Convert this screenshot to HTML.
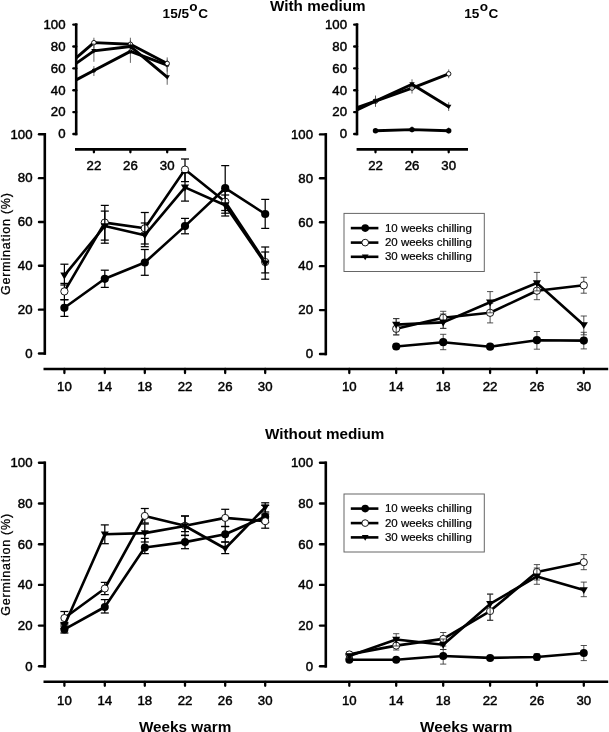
<!DOCTYPE html>
<html lang="en">
<head>
<meta charset="utf-8">
<title>Germination figure</title>
<style>
html,body{margin:0;padding:0;background:#fff;}
body{width:609px;height:732px;overflow:hidden;}
svg{display:block;font-family:'Liberation Sans', Arial, sans-serif;fill:#000;}
</style>
</head>
<body>
<svg width="609" height="732" viewBox="0 0 609 732">
<rect x="0" y="0" width="609" height="732" fill="#fff"/>
<text transform="translate(317.80,11.20) scale(1.017,1)" font-size="15" text-anchor="middle" font-weight="bold">With medium</text>
<text transform="translate(324.70,438.90) scale(1.018,1)" font-size="15" text-anchor="middle" font-weight="bold">Without medium</text>
<text transform="translate(162.6,17.65)" font-size="13.6" font-weight="bold" text-anchor="start">15/5<tspan dy="-6.75" dx="0.3">o</tspan><tspan dy="6.75" dx="0.5">C</tspan></text>
<text transform="translate(464.3,17.65)" font-size="13.6" font-weight="bold" text-anchor="start">15<tspan dy="-6.75" dx="0.3">o</tspan><tspan dy="6.75" dx="0.5">C</tspan></text>
<text transform="translate(10.20,243.60) rotate(-90)" font-size="12.5" text-anchor="middle" stroke="#000" stroke-width="0.28" letter-spacing="0.77">Germination (%)</text>
<text transform="translate(10.20,564.40) rotate(-90)" font-size="12.5" text-anchor="middle" stroke="#000" stroke-width="0.28" letter-spacing="0.77">Germination (%)</text>
<text transform="translate(185.10,731.70)" font-size="15.3" text-anchor="middle" font-weight="bold">Weeks warm</text>
<text transform="translate(466.20,731.70)" font-size="15.3" text-anchor="middle" font-weight="bold">Weeks warm</text>
<line x1="44.80" y1="133.00" x2="44.80" y2="354.80" stroke="#000" stroke-width="2.6" stroke-linecap="butt"/>
<line x1="39.00" y1="353.50" x2="44.80" y2="353.50" stroke="#000" stroke-width="2.4" stroke-linecap="round"/>
<text transform="translate(32.50,357.80) scale(1.1,1)" font-size="12" text-anchor="end" stroke="#000" stroke-width="0.42">0</text>
<line x1="39.00" y1="309.66" x2="44.80" y2="309.66" stroke="#000" stroke-width="2.4" stroke-linecap="round"/>
<text transform="translate(32.50,313.96) scale(1.1,1)" font-size="12" text-anchor="end" stroke="#000" stroke-width="0.42">20</text>
<line x1="39.00" y1="265.82" x2="44.80" y2="265.82" stroke="#000" stroke-width="2.4" stroke-linecap="round"/>
<text transform="translate(32.50,270.12) scale(1.1,1)" font-size="12" text-anchor="end" stroke="#000" stroke-width="0.42">40</text>
<line x1="39.00" y1="221.98" x2="44.80" y2="221.98" stroke="#000" stroke-width="2.4" stroke-linecap="round"/>
<text transform="translate(32.50,226.28) scale(1.1,1)" font-size="12" text-anchor="end" stroke="#000" stroke-width="0.42">60</text>
<line x1="39.00" y1="178.14" x2="44.80" y2="178.14" stroke="#000" stroke-width="2.4" stroke-linecap="round"/>
<text transform="translate(32.50,182.44) scale(1.1,1)" font-size="12" text-anchor="end" stroke="#000" stroke-width="0.42">80</text>
<line x1="39.00" y1="134.30" x2="44.80" y2="134.30" stroke="#000" stroke-width="2.4" stroke-linecap="round"/>
<text transform="translate(32.50,138.60) scale(1.1,1)" font-size="12" text-anchor="end" stroke="#000" stroke-width="0.42">100</text>
<line x1="43.50" y1="369.00" x2="608.20" y2="369.00" stroke="#000" stroke-width="2.6" stroke-linecap="butt"/>
<line x1="64.40" y1="369.00" x2="64.40" y2="373.00" stroke="#000" stroke-width="2.3" stroke-linecap="round"/>
<text transform="translate(64.40,391.30) scale(1.1,1)" font-size="12" text-anchor="middle" stroke="#000" stroke-width="0.42">10</text>
<line x1="104.80" y1="369.00" x2="104.80" y2="373.00" stroke="#000" stroke-width="2.3" stroke-linecap="round"/>
<text transform="translate(104.80,391.30) scale(1.1,1)" font-size="12" text-anchor="middle" stroke="#000" stroke-width="0.42">14</text>
<line x1="144.80" y1="369.00" x2="144.80" y2="373.00" stroke="#000" stroke-width="2.3" stroke-linecap="round"/>
<text transform="translate(144.80,391.30) scale(1.1,1)" font-size="12" text-anchor="middle" stroke="#000" stroke-width="0.42">18</text>
<line x1="185.00" y1="369.00" x2="185.00" y2="373.00" stroke="#000" stroke-width="2.3" stroke-linecap="round"/>
<text transform="translate(185.00,391.30) scale(1.1,1)" font-size="12" text-anchor="middle" stroke="#000" stroke-width="0.42">22</text>
<line x1="225.20" y1="369.00" x2="225.20" y2="373.00" stroke="#000" stroke-width="2.3" stroke-linecap="round"/>
<text transform="translate(225.20,391.30) scale(1.1,1)" font-size="12" text-anchor="middle" stroke="#000" stroke-width="0.42">26</text>
<line x1="265.20" y1="369.00" x2="265.20" y2="373.00" stroke="#000" stroke-width="2.3" stroke-linecap="round"/>
<text transform="translate(265.20,391.30) scale(1.1,1)" font-size="12" text-anchor="middle" stroke="#000" stroke-width="0.42">30</text>
<line x1="325.80" y1="133.10" x2="325.80" y2="355.30" stroke="#000" stroke-width="2.6" stroke-linecap="butt"/>
<line x1="320.00" y1="354.00" x2="325.80" y2="354.00" stroke="#000" stroke-width="2.4" stroke-linecap="round"/>
<text transform="translate(313.00,358.30) scale(1.1,1)" font-size="12" text-anchor="end" stroke="#000" stroke-width="0.42">0</text>
<line x1="320.00" y1="310.08" x2="325.80" y2="310.08" stroke="#000" stroke-width="2.4" stroke-linecap="round"/>
<text transform="translate(313.00,314.38) scale(1.1,1)" font-size="12" text-anchor="end" stroke="#000" stroke-width="0.42">20</text>
<line x1="320.00" y1="266.16" x2="325.80" y2="266.16" stroke="#000" stroke-width="2.4" stroke-linecap="round"/>
<text transform="translate(313.00,270.46) scale(1.1,1)" font-size="12" text-anchor="end" stroke="#000" stroke-width="0.42">40</text>
<line x1="320.00" y1="222.24" x2="325.80" y2="222.24" stroke="#000" stroke-width="2.4" stroke-linecap="round"/>
<text transform="translate(313.00,226.54) scale(1.1,1)" font-size="12" text-anchor="end" stroke="#000" stroke-width="0.42">60</text>
<line x1="320.00" y1="178.32" x2="325.80" y2="178.32" stroke="#000" stroke-width="2.4" stroke-linecap="round"/>
<text transform="translate(313.00,182.62) scale(1.1,1)" font-size="12" text-anchor="end" stroke="#000" stroke-width="0.42">80</text>
<line x1="320.00" y1="134.40" x2="325.80" y2="134.40" stroke="#000" stroke-width="2.4" stroke-linecap="round"/>
<text transform="translate(313.00,138.70) scale(1.1,1)" font-size="12" text-anchor="end" stroke="#000" stroke-width="0.42">100</text>
<line x1="349.30" y1="369.00" x2="349.30" y2="373.00" stroke="#000" stroke-width="2.3" stroke-linecap="round"/>
<text transform="translate(349.30,391.30) scale(1.1,1)" font-size="12" text-anchor="middle" stroke="#000" stroke-width="0.42">10</text>
<line x1="396.20" y1="369.00" x2="396.20" y2="373.00" stroke="#000" stroke-width="2.3" stroke-linecap="round"/>
<text transform="translate(396.20,391.30) scale(1.1,1)" font-size="12" text-anchor="middle" stroke="#000" stroke-width="0.42">14</text>
<line x1="443.20" y1="369.00" x2="443.20" y2="373.00" stroke="#000" stroke-width="2.3" stroke-linecap="round"/>
<text transform="translate(443.20,391.30) scale(1.1,1)" font-size="12" text-anchor="middle" stroke="#000" stroke-width="0.42">18</text>
<line x1="490.10" y1="369.00" x2="490.10" y2="373.00" stroke="#000" stroke-width="2.3" stroke-linecap="round"/>
<text transform="translate(490.10,391.30) scale(1.1,1)" font-size="12" text-anchor="middle" stroke="#000" stroke-width="0.42">22</text>
<line x1="536.90" y1="369.00" x2="536.90" y2="373.00" stroke="#000" stroke-width="2.3" stroke-linecap="round"/>
<text transform="translate(536.90,391.30) scale(1.1,1)" font-size="12" text-anchor="middle" stroke="#000" stroke-width="0.42">26</text>
<line x1="583.80" y1="369.00" x2="583.80" y2="373.00" stroke="#000" stroke-width="2.3" stroke-linecap="round"/>
<text transform="translate(583.80,391.30) scale(1.1,1)" font-size="12" text-anchor="middle" stroke="#000" stroke-width="0.42">30</text>
<line x1="44.80" y1="461.50" x2="44.80" y2="667.60" stroke="#000" stroke-width="2.6" stroke-linecap="butt"/>
<line x1="39.00" y1="666.30" x2="44.80" y2="666.30" stroke="#000" stroke-width="2.4" stroke-linecap="round"/>
<text transform="translate(32.50,670.60) scale(1.1,1)" font-size="12" text-anchor="end" stroke="#000" stroke-width="0.42">0</text>
<line x1="39.00" y1="625.60" x2="44.80" y2="625.60" stroke="#000" stroke-width="2.4" stroke-linecap="round"/>
<text transform="translate(32.50,629.90) scale(1.1,1)" font-size="12" text-anchor="end" stroke="#000" stroke-width="0.42">20</text>
<line x1="39.00" y1="584.90" x2="44.80" y2="584.90" stroke="#000" stroke-width="2.4" stroke-linecap="round"/>
<text transform="translate(32.50,589.20) scale(1.1,1)" font-size="12" text-anchor="end" stroke="#000" stroke-width="0.42">40</text>
<line x1="39.00" y1="544.20" x2="44.80" y2="544.20" stroke="#000" stroke-width="2.4" stroke-linecap="round"/>
<text transform="translate(32.50,548.50) scale(1.1,1)" font-size="12" text-anchor="end" stroke="#000" stroke-width="0.42">60</text>
<line x1="39.00" y1="503.50" x2="44.80" y2="503.50" stroke="#000" stroke-width="2.4" stroke-linecap="round"/>
<text transform="translate(32.50,507.80) scale(1.1,1)" font-size="12" text-anchor="end" stroke="#000" stroke-width="0.42">80</text>
<line x1="39.00" y1="462.80" x2="44.80" y2="462.80" stroke="#000" stroke-width="2.4" stroke-linecap="round"/>
<text transform="translate(32.50,467.10) scale(1.1,1)" font-size="12" text-anchor="end" stroke="#000" stroke-width="0.42">100</text>
<line x1="43.50" y1="681.80" x2="608.20" y2="681.80" stroke="#000" stroke-width="2.6" stroke-linecap="butt"/>
<line x1="64.40" y1="681.80" x2="64.40" y2="685.80" stroke="#000" stroke-width="2.3" stroke-linecap="round"/>
<text transform="translate(64.40,704.60) scale(1.1,1)" font-size="12" text-anchor="middle" stroke="#000" stroke-width="0.42">10</text>
<line x1="104.80" y1="681.80" x2="104.80" y2="685.80" stroke="#000" stroke-width="2.3" stroke-linecap="round"/>
<text transform="translate(104.80,704.60) scale(1.1,1)" font-size="12" text-anchor="middle" stroke="#000" stroke-width="0.42">14</text>
<line x1="144.80" y1="681.80" x2="144.80" y2="685.80" stroke="#000" stroke-width="2.3" stroke-linecap="round"/>
<text transform="translate(144.80,704.60) scale(1.1,1)" font-size="12" text-anchor="middle" stroke="#000" stroke-width="0.42">18</text>
<line x1="185.00" y1="681.80" x2="185.00" y2="685.80" stroke="#000" stroke-width="2.3" stroke-linecap="round"/>
<text transform="translate(185.00,704.60) scale(1.1,1)" font-size="12" text-anchor="middle" stroke="#000" stroke-width="0.42">22</text>
<line x1="225.20" y1="681.80" x2="225.20" y2="685.80" stroke="#000" stroke-width="2.3" stroke-linecap="round"/>
<text transform="translate(225.20,704.60) scale(1.1,1)" font-size="12" text-anchor="middle" stroke="#000" stroke-width="0.42">26</text>
<line x1="265.20" y1="681.80" x2="265.20" y2="685.80" stroke="#000" stroke-width="2.3" stroke-linecap="round"/>
<text transform="translate(265.20,704.60) scale(1.1,1)" font-size="12" text-anchor="middle" stroke="#000" stroke-width="0.42">30</text>
<line x1="325.80" y1="461.50" x2="325.80" y2="667.60" stroke="#000" stroke-width="2.6" stroke-linecap="butt"/>
<line x1="320.00" y1="666.30" x2="325.80" y2="666.30" stroke="#000" stroke-width="2.4" stroke-linecap="round"/>
<text transform="translate(313.00,670.60) scale(1.1,1)" font-size="12" text-anchor="end" stroke="#000" stroke-width="0.42">0</text>
<line x1="320.00" y1="625.60" x2="325.80" y2="625.60" stroke="#000" stroke-width="2.4" stroke-linecap="round"/>
<text transform="translate(313.00,629.90) scale(1.1,1)" font-size="12" text-anchor="end" stroke="#000" stroke-width="0.42">20</text>
<line x1="320.00" y1="584.90" x2="325.80" y2="584.90" stroke="#000" stroke-width="2.4" stroke-linecap="round"/>
<text transform="translate(313.00,589.20) scale(1.1,1)" font-size="12" text-anchor="end" stroke="#000" stroke-width="0.42">40</text>
<line x1="320.00" y1="544.20" x2="325.80" y2="544.20" stroke="#000" stroke-width="2.4" stroke-linecap="round"/>
<text transform="translate(313.00,548.50) scale(1.1,1)" font-size="12" text-anchor="end" stroke="#000" stroke-width="0.42">60</text>
<line x1="320.00" y1="503.50" x2="325.80" y2="503.50" stroke="#000" stroke-width="2.4" stroke-linecap="round"/>
<text transform="translate(313.00,507.80) scale(1.1,1)" font-size="12" text-anchor="end" stroke="#000" stroke-width="0.42">80</text>
<line x1="320.00" y1="462.80" x2="325.80" y2="462.80" stroke="#000" stroke-width="2.4" stroke-linecap="round"/>
<text transform="translate(313.00,467.10) scale(1.1,1)" font-size="12" text-anchor="end" stroke="#000" stroke-width="0.42">100</text>
<line x1="349.30" y1="681.80" x2="349.30" y2="685.80" stroke="#000" stroke-width="2.3" stroke-linecap="round"/>
<text transform="translate(349.30,704.60) scale(1.1,1)" font-size="12" text-anchor="middle" stroke="#000" stroke-width="0.42">10</text>
<line x1="396.20" y1="681.80" x2="396.20" y2="685.80" stroke="#000" stroke-width="2.3" stroke-linecap="round"/>
<text transform="translate(396.20,704.60) scale(1.1,1)" font-size="12" text-anchor="middle" stroke="#000" stroke-width="0.42">14</text>
<line x1="443.20" y1="681.80" x2="443.20" y2="685.80" stroke="#000" stroke-width="2.3" stroke-linecap="round"/>
<text transform="translate(443.20,704.60) scale(1.1,1)" font-size="12" text-anchor="middle" stroke="#000" stroke-width="0.42">18</text>
<line x1="490.10" y1="681.80" x2="490.10" y2="685.80" stroke="#000" stroke-width="2.3" stroke-linecap="round"/>
<text transform="translate(490.10,704.60) scale(1.1,1)" font-size="12" text-anchor="middle" stroke="#000" stroke-width="0.42">22</text>
<line x1="536.90" y1="681.80" x2="536.90" y2="685.80" stroke="#000" stroke-width="2.3" stroke-linecap="round"/>
<text transform="translate(536.90,704.60) scale(1.1,1)" font-size="12" text-anchor="middle" stroke="#000" stroke-width="0.42">26</text>
<line x1="583.80" y1="681.80" x2="583.80" y2="685.80" stroke="#000" stroke-width="2.3" stroke-linecap="round"/>
<text transform="translate(583.80,704.60) scale(1.1,1)" font-size="12" text-anchor="middle" stroke="#000" stroke-width="0.42">30</text>
<line x1="76.20" y1="23.30" x2="76.20" y2="135.30" stroke="#000" stroke-width="2.6" stroke-linecap="butt"/>
<line x1="73.40" y1="134.00" x2="76.20" y2="134.00" stroke="#000" stroke-width="2.4" stroke-linecap="round"/>
<text transform="translate(65.50,138.30) scale(1.1,1)" font-size="12" text-anchor="end" stroke="#000" stroke-width="0.42">0</text>
<line x1="73.40" y1="112.12" x2="76.20" y2="112.12" stroke="#000" stroke-width="2.4" stroke-linecap="round"/>
<text transform="translate(65.50,116.42) scale(1.1,1)" font-size="12" text-anchor="end" stroke="#000" stroke-width="0.42">20</text>
<line x1="73.40" y1="90.24" x2="76.20" y2="90.24" stroke="#000" stroke-width="2.4" stroke-linecap="round"/>
<text transform="translate(65.50,94.54) scale(1.1,1)" font-size="12" text-anchor="end" stroke="#000" stroke-width="0.42">40</text>
<line x1="73.40" y1="68.36" x2="76.20" y2="68.36" stroke="#000" stroke-width="2.4" stroke-linecap="round"/>
<text transform="translate(65.50,72.66) scale(1.1,1)" font-size="12" text-anchor="end" stroke="#000" stroke-width="0.42">60</text>
<line x1="73.40" y1="46.48" x2="76.20" y2="46.48" stroke="#000" stroke-width="2.4" stroke-linecap="round"/>
<text transform="translate(65.50,50.78) scale(1.1,1)" font-size="12" text-anchor="end" stroke="#000" stroke-width="0.42">80</text>
<line x1="73.40" y1="24.60" x2="76.20" y2="24.60" stroke="#000" stroke-width="2.4" stroke-linecap="round"/>
<text transform="translate(65.50,28.90) scale(1.1,1)" font-size="12" text-anchor="end" stroke="#000" stroke-width="0.42">100</text>
<line x1="75.00" y1="149.40" x2="186.20" y2="149.40" stroke="#000" stroke-width="2.6" stroke-linecap="butt"/>
<line x1="93.90" y1="149.40" x2="93.90" y2="152.30" stroke="#000" stroke-width="2.3" stroke-linecap="round"/>
<text transform="translate(93.90,170.20) scale(1.1,1)" font-size="12" text-anchor="middle" stroke="#000" stroke-width="0.42">22</text>
<line x1="130.40" y1="149.40" x2="130.40" y2="152.30" stroke="#000" stroke-width="2.3" stroke-linecap="round"/>
<text transform="translate(130.40,170.20) scale(1.1,1)" font-size="12" text-anchor="middle" stroke="#000" stroke-width="0.42">26</text>
<line x1="167.20" y1="149.40" x2="167.20" y2="152.30" stroke="#000" stroke-width="2.3" stroke-linecap="round"/>
<text transform="translate(167.20,170.20) scale(1.1,1)" font-size="12" text-anchor="middle" stroke="#000" stroke-width="0.42">30</text>
<line x1="357.00" y1="23.30" x2="357.00" y2="135.30" stroke="#000" stroke-width="2.6" stroke-linecap="butt"/>
<line x1="354.20" y1="134.00" x2="357.00" y2="134.00" stroke="#000" stroke-width="2.4" stroke-linecap="round"/>
<text transform="translate(347.00,138.30) scale(1.1,1)" font-size="12" text-anchor="end" stroke="#000" stroke-width="0.42">0</text>
<line x1="354.20" y1="112.12" x2="357.00" y2="112.12" stroke="#000" stroke-width="2.4" stroke-linecap="round"/>
<text transform="translate(347.00,116.42) scale(1.1,1)" font-size="12" text-anchor="end" stroke="#000" stroke-width="0.42">20</text>
<line x1="354.20" y1="90.24" x2="357.00" y2="90.24" stroke="#000" stroke-width="2.4" stroke-linecap="round"/>
<text transform="translate(347.00,94.54) scale(1.1,1)" font-size="12" text-anchor="end" stroke="#000" stroke-width="0.42">40</text>
<line x1="354.20" y1="68.36" x2="357.00" y2="68.36" stroke="#000" stroke-width="2.4" stroke-linecap="round"/>
<text transform="translate(347.00,72.66) scale(1.1,1)" font-size="12" text-anchor="end" stroke="#000" stroke-width="0.42">60</text>
<line x1="354.20" y1="46.48" x2="357.00" y2="46.48" stroke="#000" stroke-width="2.4" stroke-linecap="round"/>
<text transform="translate(347.00,50.78) scale(1.1,1)" font-size="12" text-anchor="end" stroke="#000" stroke-width="0.42">80</text>
<line x1="354.20" y1="24.60" x2="357.00" y2="24.60" stroke="#000" stroke-width="2.4" stroke-linecap="round"/>
<text transform="translate(347.00,28.90) scale(1.1,1)" font-size="12" text-anchor="end" stroke="#000" stroke-width="0.42">100</text>
<line x1="356.60" y1="149.40" x2="468.00" y2="149.40" stroke="#000" stroke-width="2.6" stroke-linecap="butt"/>
<line x1="375.50" y1="149.40" x2="375.50" y2="152.30" stroke="#000" stroke-width="2.3" stroke-linecap="round"/>
<text transform="translate(375.50,170.20) scale(1.1,1)" font-size="12" text-anchor="middle" stroke="#000" stroke-width="0.42">22</text>
<line x1="412.10" y1="149.40" x2="412.10" y2="152.30" stroke="#000" stroke-width="2.3" stroke-linecap="round"/>
<text transform="translate(412.10,170.20) scale(1.1,1)" font-size="12" text-anchor="middle" stroke="#000" stroke-width="0.42">26</text>
<line x1="448.70" y1="149.40" x2="448.70" y2="152.30" stroke="#000" stroke-width="2.3" stroke-linecap="round"/>
<text transform="translate(448.70,170.20) scale(1.1,1)" font-size="12" text-anchor="middle" stroke="#000" stroke-width="0.42">30</text>
<line x1="64.40" y1="299.70" x2="64.40" y2="316.40" stroke="#000" stroke-width="1.25" stroke-linecap="butt"/>
<line x1="60.40" y1="299.70" x2="68.40" y2="299.70" stroke="#000" stroke-width="1.25" stroke-linecap="butt"/>
<line x1="60.40" y1="316.40" x2="68.40" y2="316.40" stroke="#000" stroke-width="1.25" stroke-linecap="butt"/>
<line x1="104.80" y1="270.20" x2="104.80" y2="287.40" stroke="#000" stroke-width="1.25" stroke-linecap="butt"/>
<line x1="100.80" y1="270.20" x2="108.80" y2="270.20" stroke="#000" stroke-width="1.25" stroke-linecap="butt"/>
<line x1="100.80" y1="287.40" x2="108.80" y2="287.40" stroke="#000" stroke-width="1.25" stroke-linecap="butt"/>
<line x1="144.80" y1="249.50" x2="144.80" y2="275.30" stroke="#000" stroke-width="1.25" stroke-linecap="butt"/>
<line x1="140.80" y1="249.50" x2="148.80" y2="249.50" stroke="#000" stroke-width="1.25" stroke-linecap="butt"/>
<line x1="140.80" y1="275.30" x2="148.80" y2="275.30" stroke="#000" stroke-width="1.25" stroke-linecap="butt"/>
<line x1="185.00" y1="218.40" x2="185.00" y2="233.80" stroke="#000" stroke-width="1.25" stroke-linecap="butt"/>
<line x1="181.00" y1="218.40" x2="189.00" y2="218.40" stroke="#000" stroke-width="1.25" stroke-linecap="butt"/>
<line x1="181.00" y1="233.80" x2="189.00" y2="233.80" stroke="#000" stroke-width="1.25" stroke-linecap="butt"/>
<line x1="225.20" y1="165.60" x2="225.20" y2="210.50" stroke="#000" stroke-width="1.25" stroke-linecap="butt"/>
<line x1="221.20" y1="165.60" x2="229.20" y2="165.60" stroke="#000" stroke-width="1.25" stroke-linecap="butt"/>
<line x1="221.20" y1="210.50" x2="229.20" y2="210.50" stroke="#000" stroke-width="1.25" stroke-linecap="butt"/>
<line x1="265.20" y1="199.40" x2="265.20" y2="228.40" stroke="#000" stroke-width="1.25" stroke-linecap="butt"/>
<line x1="261.20" y1="199.40" x2="269.20" y2="199.40" stroke="#000" stroke-width="1.25" stroke-linecap="butt"/>
<line x1="261.20" y1="228.40" x2="269.20" y2="228.40" stroke="#000" stroke-width="1.25" stroke-linecap="butt"/>
<polyline points="64.40,307.80 104.80,278.80 144.80,262.50 185.00,226.10 225.20,188.20 265.20,214.00" fill="none" stroke="#000" stroke-width="2.6" stroke-linejoin="round"/>
<circle cx="64.40" cy="307.80" r="4.1" fill="#000"/>
<circle cx="104.80" cy="278.80" r="4.1" fill="#000"/>
<circle cx="144.80" cy="262.50" r="4.1" fill="#000"/>
<circle cx="185.00" cy="226.10" r="4.1" fill="#000"/>
<circle cx="225.20" cy="188.20" r="4.1" fill="#000"/>
<circle cx="265.20" cy="214.00" r="4.1" fill="#000"/>
<line x1="64.40" y1="283.40" x2="64.40" y2="299.70" stroke="#000" stroke-width="1.25" stroke-linecap="butt"/>
<line x1="60.40" y1="283.40" x2="68.40" y2="283.40" stroke="#000" stroke-width="1.25" stroke-linecap="butt"/>
<line x1="60.40" y1="299.70" x2="68.40" y2="299.70" stroke="#000" stroke-width="1.25" stroke-linecap="butt"/>
<line x1="104.80" y1="205.40" x2="104.80" y2="243.20" stroke="#000" stroke-width="1.25" stroke-linecap="butt"/>
<line x1="100.80" y1="205.40" x2="108.80" y2="205.40" stroke="#000" stroke-width="1.25" stroke-linecap="butt"/>
<line x1="100.80" y1="243.20" x2="108.80" y2="243.20" stroke="#000" stroke-width="1.25" stroke-linecap="butt"/>
<line x1="144.80" y1="212.50" x2="144.80" y2="244.00" stroke="#000" stroke-width="1.25" stroke-linecap="butt"/>
<line x1="140.80" y1="212.50" x2="148.80" y2="212.50" stroke="#000" stroke-width="1.25" stroke-linecap="butt"/>
<line x1="140.80" y1="244.00" x2="148.80" y2="244.00" stroke="#000" stroke-width="1.25" stroke-linecap="butt"/>
<line x1="185.00" y1="159.00" x2="185.00" y2="181.60" stroke="#000" stroke-width="1.25" stroke-linecap="butt"/>
<line x1="181.00" y1="159.00" x2="189.00" y2="159.00" stroke="#000" stroke-width="1.25" stroke-linecap="butt"/>
<line x1="181.00" y1="181.60" x2="189.00" y2="181.60" stroke="#000" stroke-width="1.25" stroke-linecap="butt"/>
<line x1="225.20" y1="191.00" x2="225.20" y2="213.20" stroke="#000" stroke-width="1.25" stroke-linecap="butt"/>
<line x1="221.20" y1="191.00" x2="229.20" y2="191.00" stroke="#000" stroke-width="1.25" stroke-linecap="butt"/>
<line x1="221.20" y1="213.20" x2="229.20" y2="213.20" stroke="#000" stroke-width="1.25" stroke-linecap="butt"/>
<line x1="265.20" y1="247.00" x2="265.20" y2="272.90" stroke="#000" stroke-width="1.25" stroke-linecap="butt"/>
<line x1="261.20" y1="247.00" x2="269.20" y2="247.00" stroke="#000" stroke-width="1.25" stroke-linecap="butt"/>
<line x1="261.20" y1="272.90" x2="269.20" y2="272.90" stroke="#000" stroke-width="1.25" stroke-linecap="butt"/>
<polyline points="64.40,291.40 104.80,222.60 144.80,228.30 185.00,169.60 225.20,201.70 265.20,262.00" fill="none" stroke="#000" stroke-width="2.6" stroke-linejoin="round"/>
<circle cx="64.40" cy="291.40" r="3.6499999999999995" fill="#fff" stroke="#000" stroke-width="0.9"/>
<circle cx="104.80" cy="222.60" r="3.6499999999999995" fill="#fff" stroke="#000" stroke-width="0.9"/>
<circle cx="144.80" cy="228.30" r="3.6499999999999995" fill="#fff" stroke="#000" stroke-width="0.9"/>
<circle cx="185.00" cy="169.60" r="3.6499999999999995" fill="#fff" stroke="#000" stroke-width="0.9"/>
<circle cx="225.20" cy="201.70" r="3.6499999999999995" fill="#fff" stroke="#000" stroke-width="0.9"/>
<circle cx="265.20" cy="262.00" r="3.6499999999999995" fill="#fff" stroke="#000" stroke-width="0.9"/>
<line x1="64.40" y1="264.20" x2="64.40" y2="285.00" stroke="#000" stroke-width="1.25" stroke-linecap="butt"/>
<line x1="60.40" y1="264.20" x2="68.40" y2="264.20" stroke="#000" stroke-width="1.25" stroke-linecap="butt"/>
<line x1="60.40" y1="285.00" x2="68.40" y2="285.00" stroke="#000" stroke-width="1.25" stroke-linecap="butt"/>
<line x1="104.80" y1="211.10" x2="104.80" y2="240.10" stroke="#000" stroke-width="1.25" stroke-linecap="butt"/>
<line x1="100.80" y1="211.10" x2="108.80" y2="211.10" stroke="#000" stroke-width="1.25" stroke-linecap="butt"/>
<line x1="100.80" y1="240.10" x2="108.80" y2="240.10" stroke="#000" stroke-width="1.25" stroke-linecap="butt"/>
<line x1="144.80" y1="223.00" x2="144.80" y2="246.70" stroke="#000" stroke-width="1.25" stroke-linecap="butt"/>
<line x1="140.80" y1="223.00" x2="148.80" y2="223.00" stroke="#000" stroke-width="1.25" stroke-linecap="butt"/>
<line x1="140.80" y1="246.70" x2="148.80" y2="246.70" stroke="#000" stroke-width="1.25" stroke-linecap="butt"/>
<line x1="185.00" y1="172.70" x2="185.00" y2="201.10" stroke="#000" stroke-width="1.25" stroke-linecap="butt"/>
<line x1="181.00" y1="172.70" x2="189.00" y2="172.70" stroke="#000" stroke-width="1.25" stroke-linecap="butt"/>
<line x1="181.00" y1="201.10" x2="189.00" y2="201.10" stroke="#000" stroke-width="1.25" stroke-linecap="butt"/>
<line x1="225.20" y1="195.00" x2="225.20" y2="216.00" stroke="#000" stroke-width="1.25" stroke-linecap="butt"/>
<line x1="221.20" y1="195.00" x2="229.20" y2="195.00" stroke="#000" stroke-width="1.25" stroke-linecap="butt"/>
<line x1="221.20" y1="216.00" x2="229.20" y2="216.00" stroke="#000" stroke-width="1.25" stroke-linecap="butt"/>
<line x1="265.20" y1="252.00" x2="265.20" y2="279.20" stroke="#000" stroke-width="1.25" stroke-linecap="butt"/>
<line x1="261.20" y1="252.00" x2="269.20" y2="252.00" stroke="#000" stroke-width="1.25" stroke-linecap="butt"/>
<line x1="261.20" y1="279.20" x2="269.20" y2="279.20" stroke="#000" stroke-width="1.25" stroke-linecap="butt"/>
<polyline points="64.40,275.40 104.80,226.00 144.80,235.20 185.00,187.40 225.20,205.20 265.20,263.40" fill="none" stroke="#000" stroke-width="2.6" stroke-linejoin="round"/>
<polygon points="60.30,272.53 68.50,272.53 64.40,279.50" fill="#000"/>
<polygon points="100.70,223.13 108.90,223.13 104.80,230.10" fill="#000"/>
<polygon points="140.70,232.33 148.90,232.33 144.80,239.30" fill="#000"/>
<polygon points="180.90,184.53 189.10,184.53 185.00,191.50" fill="#000"/>
<polygon points="221.10,202.33 229.30,202.33 225.20,209.30" fill="#000"/>
<polygon points="261.10,260.53 269.30,260.53 265.20,267.50" fill="#000"/>
<line x1="396.20" y1="344.00" x2="396.20" y2="349.00" stroke="#333" stroke-width="0.85" stroke-linecap="butt"/>
<line x1="393.10" y1="344.00" x2="399.30" y2="344.00" stroke="#333" stroke-width="0.85" stroke-linecap="butt"/>
<line x1="393.10" y1="349.00" x2="399.30" y2="349.00" stroke="#333" stroke-width="0.85" stroke-linecap="butt"/>
<line x1="443.20" y1="334.30" x2="443.20" y2="349.70" stroke="#333" stroke-width="0.85" stroke-linecap="butt"/>
<line x1="440.10" y1="334.30" x2="446.30" y2="334.30" stroke="#333" stroke-width="0.85" stroke-linecap="butt"/>
<line x1="440.10" y1="349.70" x2="446.30" y2="349.70" stroke="#333" stroke-width="0.85" stroke-linecap="butt"/>
<line x1="490.10" y1="344.50" x2="490.10" y2="349.00" stroke="#333" stroke-width="0.85" stroke-linecap="butt"/>
<line x1="487.00" y1="344.50" x2="493.20" y2="344.50" stroke="#333" stroke-width="0.85" stroke-linecap="butt"/>
<line x1="487.00" y1="349.00" x2="493.20" y2="349.00" stroke="#333" stroke-width="0.85" stroke-linecap="butt"/>
<line x1="536.90" y1="331.50" x2="536.90" y2="349.20" stroke="#333" stroke-width="0.85" stroke-linecap="butt"/>
<line x1="533.80" y1="331.50" x2="540.00" y2="331.50" stroke="#333" stroke-width="0.85" stroke-linecap="butt"/>
<line x1="533.80" y1="349.20" x2="540.00" y2="349.20" stroke="#333" stroke-width="0.85" stroke-linecap="butt"/>
<line x1="583.80" y1="332.30" x2="583.80" y2="348.90" stroke="#333" stroke-width="0.85" stroke-linecap="butt"/>
<line x1="580.70" y1="332.30" x2="586.90" y2="332.30" stroke="#333" stroke-width="0.85" stroke-linecap="butt"/>
<line x1="580.70" y1="348.90" x2="586.90" y2="348.90" stroke="#333" stroke-width="0.85" stroke-linecap="butt"/>
<polyline points="396.20,346.50 443.20,342.20 490.10,346.70 536.90,340.20 583.80,340.60" fill="none" stroke="#000" stroke-width="2.6" stroke-linejoin="round"/>
<circle cx="396.20" cy="346.50" r="4.1" fill="#000"/>
<circle cx="443.20" cy="342.20" r="4.1" fill="#000"/>
<circle cx="490.10" cy="346.70" r="4.1" fill="#000"/>
<circle cx="536.90" cy="340.20" r="4.1" fill="#000"/>
<circle cx="583.80" cy="340.60" r="4.1" fill="#000"/>
<line x1="396.20" y1="318.60" x2="396.20" y2="334.90" stroke="#333" stroke-width="0.85" stroke-linecap="butt"/>
<line x1="393.10" y1="318.60" x2="399.30" y2="318.60" stroke="#333" stroke-width="0.85" stroke-linecap="butt"/>
<line x1="393.10" y1="334.90" x2="399.30" y2="334.90" stroke="#333" stroke-width="0.85" stroke-linecap="butt"/>
<line x1="443.20" y1="311.30" x2="443.20" y2="328.40" stroke="#333" stroke-width="0.85" stroke-linecap="butt"/>
<line x1="440.10" y1="311.30" x2="446.30" y2="311.30" stroke="#333" stroke-width="0.85" stroke-linecap="butt"/>
<line x1="440.10" y1="328.40" x2="446.30" y2="328.40" stroke="#333" stroke-width="0.85" stroke-linecap="butt"/>
<line x1="490.10" y1="303.40" x2="490.10" y2="322.90" stroke="#333" stroke-width="0.85" stroke-linecap="butt"/>
<line x1="487.00" y1="303.40" x2="493.20" y2="303.40" stroke="#333" stroke-width="0.85" stroke-linecap="butt"/>
<line x1="487.00" y1="322.90" x2="493.20" y2="322.90" stroke="#333" stroke-width="0.85" stroke-linecap="butt"/>
<line x1="536.90" y1="282.80" x2="536.90" y2="299.70" stroke="#333" stroke-width="0.85" stroke-linecap="butt"/>
<line x1="533.80" y1="282.80" x2="540.00" y2="282.80" stroke="#333" stroke-width="0.85" stroke-linecap="butt"/>
<line x1="533.80" y1="299.70" x2="540.00" y2="299.70" stroke="#333" stroke-width="0.85" stroke-linecap="butt"/>
<line x1="583.80" y1="277.30" x2="583.80" y2="293.20" stroke="#333" stroke-width="0.85" stroke-linecap="butt"/>
<line x1="580.70" y1="277.30" x2="586.90" y2="277.30" stroke="#333" stroke-width="0.85" stroke-linecap="butt"/>
<line x1="580.70" y1="293.20" x2="586.90" y2="293.20" stroke="#333" stroke-width="0.85" stroke-linecap="butt"/>
<polyline points="396.20,328.80 443.20,317.80 490.10,312.80 536.90,290.70 583.80,285.30" fill="none" stroke="#000" stroke-width="2.6" stroke-linejoin="round"/>
<circle cx="396.20" cy="328.80" r="3.6499999999999995" fill="#fff" stroke="#000" stroke-width="0.9"/>
<circle cx="443.20" cy="317.80" r="3.6499999999999995" fill="#fff" stroke="#000" stroke-width="0.9"/>
<circle cx="490.10" cy="312.80" r="3.6499999999999995" fill="#fff" stroke="#000" stroke-width="0.9"/>
<circle cx="536.90" cy="290.70" r="3.6499999999999995" fill="#fff" stroke="#000" stroke-width="0.9"/>
<circle cx="583.80" cy="285.30" r="3.6499999999999995" fill="#fff" stroke="#000" stroke-width="0.9"/>
<line x1="396.20" y1="318.60" x2="396.20" y2="334.90" stroke="#333" stroke-width="0.85" stroke-linecap="butt"/>
<line x1="393.10" y1="318.60" x2="399.30" y2="318.60" stroke="#333" stroke-width="0.85" stroke-linecap="butt"/>
<line x1="393.10" y1="334.90" x2="399.30" y2="334.90" stroke="#333" stroke-width="0.85" stroke-linecap="butt"/>
<line x1="443.20" y1="314.00" x2="443.20" y2="328.40" stroke="#333" stroke-width="0.85" stroke-linecap="butt"/>
<line x1="440.10" y1="314.00" x2="446.30" y2="314.00" stroke="#333" stroke-width="0.85" stroke-linecap="butt"/>
<line x1="440.10" y1="328.40" x2="446.30" y2="328.40" stroke="#333" stroke-width="0.85" stroke-linecap="butt"/>
<line x1="490.10" y1="291.60" x2="490.10" y2="312.80" stroke="#333" stroke-width="0.85" stroke-linecap="butt"/>
<line x1="487.00" y1="291.60" x2="493.20" y2="291.60" stroke="#333" stroke-width="0.85" stroke-linecap="butt"/>
<line x1="487.00" y1="312.80" x2="493.20" y2="312.80" stroke="#333" stroke-width="0.85" stroke-linecap="butt"/>
<line x1="536.90" y1="272.40" x2="536.90" y2="290.90" stroke="#333" stroke-width="0.85" stroke-linecap="butt"/>
<line x1="533.80" y1="272.40" x2="540.00" y2="272.40" stroke="#333" stroke-width="0.85" stroke-linecap="butt"/>
<line x1="533.80" y1="290.90" x2="540.00" y2="290.90" stroke="#333" stroke-width="0.85" stroke-linecap="butt"/>
<line x1="583.80" y1="316.00" x2="583.80" y2="334.80" stroke="#333" stroke-width="0.85" stroke-linecap="butt"/>
<line x1="580.70" y1="316.00" x2="586.90" y2="316.00" stroke="#333" stroke-width="0.85" stroke-linecap="butt"/>
<line x1="580.70" y1="334.80" x2="586.90" y2="334.80" stroke="#333" stroke-width="0.85" stroke-linecap="butt"/>
<polyline points="396.20,324.60 443.20,322.40 490.10,302.30 536.90,283.00 583.80,325.00" fill="none" stroke="#000" stroke-width="2.6" stroke-linejoin="round"/>
<polygon points="392.10,321.73 400.30,321.73 396.20,328.70" fill="#000"/>
<polygon points="439.10,319.53 447.30,319.53 443.20,326.50" fill="#000"/>
<polygon points="486.00,299.43 494.20,299.43 490.10,306.40" fill="#000"/>
<polygon points="532.80,280.13 541.00,280.13 536.90,287.10" fill="#000"/>
<polygon points="579.70,322.13 587.90,322.13 583.80,329.10" fill="#000"/>
<line x1="64.40" y1="626.00" x2="64.40" y2="633.00" stroke="#000" stroke-width="1.25" stroke-linecap="butt"/>
<line x1="60.40" y1="626.00" x2="68.40" y2="626.00" stroke="#000" stroke-width="1.25" stroke-linecap="butt"/>
<line x1="60.40" y1="633.00" x2="68.40" y2="633.00" stroke="#000" stroke-width="1.25" stroke-linecap="butt"/>
<line x1="104.80" y1="599.60" x2="104.80" y2="613.00" stroke="#000" stroke-width="1.25" stroke-linecap="butt"/>
<line x1="100.80" y1="599.60" x2="108.80" y2="599.60" stroke="#000" stroke-width="1.25" stroke-linecap="butt"/>
<line x1="100.80" y1="613.00" x2="108.80" y2="613.00" stroke="#000" stroke-width="1.25" stroke-linecap="butt"/>
<line x1="144.80" y1="538.40" x2="144.80" y2="553.60" stroke="#000" stroke-width="1.25" stroke-linecap="butt"/>
<line x1="140.80" y1="538.40" x2="148.80" y2="538.40" stroke="#000" stroke-width="1.25" stroke-linecap="butt"/>
<line x1="140.80" y1="553.60" x2="148.80" y2="553.60" stroke="#000" stroke-width="1.25" stroke-linecap="butt"/>
<line x1="185.00" y1="535.50" x2="185.00" y2="548.70" stroke="#000" stroke-width="1.25" stroke-linecap="butt"/>
<line x1="181.00" y1="535.50" x2="189.00" y2="535.50" stroke="#000" stroke-width="1.25" stroke-linecap="butt"/>
<line x1="181.00" y1="548.70" x2="189.00" y2="548.70" stroke="#000" stroke-width="1.25" stroke-linecap="butt"/>
<line x1="225.20" y1="526.50" x2="225.20" y2="542.00" stroke="#000" stroke-width="1.25" stroke-linecap="butt"/>
<line x1="221.20" y1="526.50" x2="229.20" y2="526.50" stroke="#000" stroke-width="1.25" stroke-linecap="butt"/>
<line x1="221.20" y1="542.00" x2="229.20" y2="542.00" stroke="#000" stroke-width="1.25" stroke-linecap="butt"/>
<line x1="265.20" y1="505.40" x2="265.20" y2="522.50" stroke="#000" stroke-width="1.25" stroke-linecap="butt"/>
<line x1="261.20" y1="505.40" x2="269.20" y2="505.40" stroke="#000" stroke-width="1.25" stroke-linecap="butt"/>
<line x1="261.20" y1="522.50" x2="269.20" y2="522.50" stroke="#000" stroke-width="1.25" stroke-linecap="butt"/>
<polyline points="64.40,629.40 104.80,607.00 144.80,547.50 185.00,542.10 225.20,534.30 265.20,516.70" fill="none" stroke="#000" stroke-width="2.6" stroke-linejoin="round"/>
<circle cx="64.40" cy="629.40" r="4.0" fill="#000"/>
<circle cx="104.80" cy="607.00" r="4.0" fill="#000"/>
<circle cx="144.80" cy="547.50" r="4.0" fill="#000"/>
<circle cx="185.00" cy="542.10" r="4.0" fill="#000"/>
<circle cx="225.20" cy="534.30" r="4.0" fill="#000"/>
<circle cx="265.20" cy="516.70" r="4.0" fill="#000"/>
<line x1="64.40" y1="611.50" x2="64.40" y2="624.00" stroke="#000" stroke-width="1.25" stroke-linecap="butt"/>
<line x1="60.40" y1="611.50" x2="68.40" y2="611.50" stroke="#000" stroke-width="1.25" stroke-linecap="butt"/>
<line x1="60.40" y1="624.00" x2="68.40" y2="624.00" stroke="#000" stroke-width="1.25" stroke-linecap="butt"/>
<line x1="104.80" y1="582.40" x2="104.80" y2="594.60" stroke="#000" stroke-width="1.25" stroke-linecap="butt"/>
<line x1="100.80" y1="582.40" x2="108.80" y2="582.40" stroke="#000" stroke-width="1.25" stroke-linecap="butt"/>
<line x1="100.80" y1="594.60" x2="108.80" y2="594.60" stroke="#000" stroke-width="1.25" stroke-linecap="butt"/>
<line x1="144.80" y1="508.50" x2="144.80" y2="523.00" stroke="#000" stroke-width="1.25" stroke-linecap="butt"/>
<line x1="140.80" y1="508.50" x2="148.80" y2="508.50" stroke="#000" stroke-width="1.25" stroke-linecap="butt"/>
<line x1="140.80" y1="523.00" x2="148.80" y2="523.00" stroke="#000" stroke-width="1.25" stroke-linecap="butt"/>
<line x1="185.00" y1="516.00" x2="185.00" y2="531.60" stroke="#000" stroke-width="1.25" stroke-linecap="butt"/>
<line x1="181.00" y1="516.00" x2="189.00" y2="516.00" stroke="#000" stroke-width="1.25" stroke-linecap="butt"/>
<line x1="181.00" y1="531.60" x2="189.00" y2="531.60" stroke="#000" stroke-width="1.25" stroke-linecap="butt"/>
<line x1="225.20" y1="509.30" x2="225.20" y2="526.50" stroke="#000" stroke-width="1.25" stroke-linecap="butt"/>
<line x1="221.20" y1="509.30" x2="229.20" y2="509.30" stroke="#000" stroke-width="1.25" stroke-linecap="butt"/>
<line x1="221.20" y1="526.50" x2="229.20" y2="526.50" stroke="#000" stroke-width="1.25" stroke-linecap="butt"/>
<line x1="265.20" y1="514.00" x2="265.20" y2="528.20" stroke="#000" stroke-width="1.25" stroke-linecap="butt"/>
<line x1="261.20" y1="514.00" x2="269.20" y2="514.00" stroke="#000" stroke-width="1.25" stroke-linecap="butt"/>
<line x1="261.20" y1="528.20" x2="269.20" y2="528.20" stroke="#000" stroke-width="1.25" stroke-linecap="butt"/>
<polyline points="64.40,618.00 104.80,588.50 144.80,515.90 185.00,525.70 225.20,517.90 265.20,521.20" fill="none" stroke="#000" stroke-width="2.6" stroke-linejoin="round"/>
<circle cx="64.40" cy="618.00" r="3.55" fill="#fff" stroke="#000" stroke-width="0.9"/>
<circle cx="104.80" cy="588.50" r="3.55" fill="#fff" stroke="#000" stroke-width="0.9"/>
<circle cx="144.80" cy="515.90" r="3.55" fill="#fff" stroke="#000" stroke-width="0.9"/>
<circle cx="185.00" cy="525.70" r="3.55" fill="#fff" stroke="#000" stroke-width="0.9"/>
<circle cx="225.20" cy="517.90" r="3.55" fill="#fff" stroke="#000" stroke-width="0.9"/>
<circle cx="265.20" cy="521.20" r="3.55" fill="#fff" stroke="#000" stroke-width="0.9"/>
<line x1="64.40" y1="622.50" x2="64.40" y2="628.50" stroke="#000" stroke-width="1.25" stroke-linecap="butt"/>
<line x1="60.40" y1="622.50" x2="68.40" y2="622.50" stroke="#000" stroke-width="1.25" stroke-linecap="butt"/>
<line x1="60.40" y1="628.50" x2="68.40" y2="628.50" stroke="#000" stroke-width="1.25" stroke-linecap="butt"/>
<line x1="104.80" y1="524.90" x2="104.80" y2="543.70" stroke="#000" stroke-width="1.25" stroke-linecap="butt"/>
<line x1="100.80" y1="524.90" x2="108.80" y2="524.90" stroke="#000" stroke-width="1.25" stroke-linecap="butt"/>
<line x1="100.80" y1="543.70" x2="108.80" y2="543.70" stroke="#000" stroke-width="1.25" stroke-linecap="butt"/>
<line x1="144.80" y1="524.00" x2="144.80" y2="542.00" stroke="#000" stroke-width="1.25" stroke-linecap="butt"/>
<line x1="140.80" y1="524.00" x2="148.80" y2="524.00" stroke="#000" stroke-width="1.25" stroke-linecap="butt"/>
<line x1="140.80" y1="542.00" x2="148.80" y2="542.00" stroke="#000" stroke-width="1.25" stroke-linecap="butt"/>
<line x1="185.00" y1="516.00" x2="185.00" y2="535.30" stroke="#000" stroke-width="1.25" stroke-linecap="butt"/>
<line x1="181.00" y1="516.00" x2="189.00" y2="516.00" stroke="#000" stroke-width="1.25" stroke-linecap="butt"/>
<line x1="181.00" y1="535.30" x2="189.00" y2="535.30" stroke="#000" stroke-width="1.25" stroke-linecap="butt"/>
<line x1="225.20" y1="542.00" x2="225.20" y2="553.60" stroke="#000" stroke-width="1.25" stroke-linecap="butt"/>
<line x1="221.20" y1="542.00" x2="229.20" y2="542.00" stroke="#000" stroke-width="1.25" stroke-linecap="butt"/>
<line x1="221.20" y1="553.60" x2="229.20" y2="553.60" stroke="#000" stroke-width="1.25" stroke-linecap="butt"/>
<line x1="265.20" y1="502.80" x2="265.20" y2="512.00" stroke="#000" stroke-width="1.25" stroke-linecap="butt"/>
<line x1="261.20" y1="502.80" x2="269.20" y2="502.80" stroke="#000" stroke-width="1.25" stroke-linecap="butt"/>
<line x1="261.20" y1="512.00" x2="269.20" y2="512.00" stroke="#000" stroke-width="1.25" stroke-linecap="butt"/>
<polyline points="64.40,625.50 104.80,534.30 144.80,533.10 185.00,526.00 225.20,548.50 265.20,507.30" fill="none" stroke="#000" stroke-width="2.6" stroke-linejoin="round"/>
<polygon points="60.40,622.70 68.40,622.70 64.40,629.50" fill="#000"/>
<polygon points="100.80,531.50 108.80,531.50 104.80,538.30" fill="#000"/>
<polygon points="140.80,530.30 148.80,530.30 144.80,537.10" fill="#000"/>
<polygon points="181.00,523.20 189.00,523.20 185.00,530.00" fill="#000"/>
<polygon points="221.20,545.70 229.20,545.70 225.20,552.50" fill="#000"/>
<polygon points="261.20,504.50 269.20,504.50 265.20,511.30" fill="#000"/>
<line x1="349.30" y1="658.00" x2="349.30" y2="661.50" stroke="#333" stroke-width="0.85" stroke-linecap="butt"/>
<line x1="346.20" y1="658.00" x2="352.40" y2="658.00" stroke="#333" stroke-width="0.85" stroke-linecap="butt"/>
<line x1="346.20" y1="661.50" x2="352.40" y2="661.50" stroke="#333" stroke-width="0.85" stroke-linecap="butt"/>
<line x1="396.20" y1="658.00" x2="396.20" y2="661.50" stroke="#333" stroke-width="0.85" stroke-linecap="butt"/>
<line x1="393.10" y1="658.00" x2="399.30" y2="658.00" stroke="#333" stroke-width="0.85" stroke-linecap="butt"/>
<line x1="393.10" y1="661.50" x2="399.30" y2="661.50" stroke="#333" stroke-width="0.85" stroke-linecap="butt"/>
<line x1="443.20" y1="649.50" x2="443.20" y2="664.10" stroke="#333" stroke-width="0.85" stroke-linecap="butt"/>
<line x1="440.10" y1="649.50" x2="446.30" y2="649.50" stroke="#333" stroke-width="0.85" stroke-linecap="butt"/>
<line x1="440.10" y1="664.10" x2="446.30" y2="664.10" stroke="#333" stroke-width="0.85" stroke-linecap="butt"/>
<line x1="490.10" y1="655.50" x2="490.10" y2="660.50" stroke="#333" stroke-width="0.85" stroke-linecap="butt"/>
<line x1="487.00" y1="655.50" x2="493.20" y2="655.50" stroke="#333" stroke-width="0.85" stroke-linecap="butt"/>
<line x1="487.00" y1="660.50" x2="493.20" y2="660.50" stroke="#333" stroke-width="0.85" stroke-linecap="butt"/>
<line x1="536.90" y1="653.80" x2="536.90" y2="660.20" stroke="#333" stroke-width="0.85" stroke-linecap="butt"/>
<line x1="533.80" y1="653.80" x2="540.00" y2="653.80" stroke="#333" stroke-width="0.85" stroke-linecap="butt"/>
<line x1="533.80" y1="660.20" x2="540.00" y2="660.20" stroke="#333" stroke-width="0.85" stroke-linecap="butt"/>
<line x1="583.80" y1="645.50" x2="583.80" y2="660.60" stroke="#333" stroke-width="0.85" stroke-linecap="butt"/>
<line x1="580.70" y1="645.50" x2="586.90" y2="645.50" stroke="#333" stroke-width="0.85" stroke-linecap="butt"/>
<line x1="580.70" y1="660.60" x2="586.90" y2="660.60" stroke="#333" stroke-width="0.85" stroke-linecap="butt"/>
<polyline points="349.30,659.70 396.20,659.70 443.20,656.00 490.10,657.90 536.90,657.00 583.80,653.00" fill="none" stroke="#000" stroke-width="2.6" stroke-linejoin="round"/>
<circle cx="349.30" cy="659.70" r="4.0" fill="#000"/>
<circle cx="396.20" cy="659.70" r="4.0" fill="#000"/>
<circle cx="443.20" cy="656.00" r="4.0" fill="#000"/>
<circle cx="490.10" cy="657.90" r="4.0" fill="#000"/>
<circle cx="536.90" cy="657.00" r="4.0" fill="#000"/>
<circle cx="583.80" cy="653.00" r="4.0" fill="#000"/>
<line x1="349.30" y1="652.00" x2="349.30" y2="657.00" stroke="#333" stroke-width="0.85" stroke-linecap="butt"/>
<line x1="346.20" y1="652.00" x2="352.40" y2="652.00" stroke="#333" stroke-width="0.85" stroke-linecap="butt"/>
<line x1="346.20" y1="657.00" x2="352.40" y2="657.00" stroke="#333" stroke-width="0.85" stroke-linecap="butt"/>
<line x1="396.20" y1="638.40" x2="396.20" y2="650.00" stroke="#333" stroke-width="0.85" stroke-linecap="butt"/>
<line x1="393.10" y1="638.40" x2="399.30" y2="638.40" stroke="#333" stroke-width="0.85" stroke-linecap="butt"/>
<line x1="393.10" y1="650.00" x2="399.30" y2="650.00" stroke="#333" stroke-width="0.85" stroke-linecap="butt"/>
<line x1="443.20" y1="632.50" x2="443.20" y2="646.00" stroke="#333" stroke-width="0.85" stroke-linecap="butt"/>
<line x1="440.10" y1="632.50" x2="446.30" y2="632.50" stroke="#333" stroke-width="0.85" stroke-linecap="butt"/>
<line x1="440.10" y1="646.00" x2="446.30" y2="646.00" stroke="#333" stroke-width="0.85" stroke-linecap="butt"/>
<line x1="490.10" y1="594.10" x2="490.10" y2="620.30" stroke="#333" stroke-width="0.85" stroke-linecap="butt"/>
<line x1="487.00" y1="594.10" x2="493.20" y2="594.10" stroke="#333" stroke-width="0.85" stroke-linecap="butt"/>
<line x1="487.00" y1="620.30" x2="493.20" y2="620.30" stroke="#333" stroke-width="0.85" stroke-linecap="butt"/>
<line x1="536.90" y1="564.60" x2="536.90" y2="580.00" stroke="#333" stroke-width="0.85" stroke-linecap="butt"/>
<line x1="533.80" y1="564.60" x2="540.00" y2="564.60" stroke="#333" stroke-width="0.85" stroke-linecap="butt"/>
<line x1="533.80" y1="580.00" x2="540.00" y2="580.00" stroke="#333" stroke-width="0.85" stroke-linecap="butt"/>
<line x1="583.80" y1="554.60" x2="583.80" y2="569.70" stroke="#333" stroke-width="0.85" stroke-linecap="butt"/>
<line x1="580.70" y1="554.60" x2="586.90" y2="554.60" stroke="#333" stroke-width="0.85" stroke-linecap="butt"/>
<line x1="580.70" y1="569.70" x2="586.90" y2="569.70" stroke="#333" stroke-width="0.85" stroke-linecap="butt"/>
<polyline points="349.30,654.40 396.20,645.60 443.20,638.90 490.10,611.10 536.90,571.90 583.80,562.20" fill="none" stroke="#000" stroke-width="2.6" stroke-linejoin="round"/>
<circle cx="349.30" cy="654.40" r="3.55" fill="#fff" stroke="#000" stroke-width="0.9"/>
<circle cx="396.20" cy="645.60" r="3.55" fill="#fff" stroke="#000" stroke-width="0.9"/>
<circle cx="443.20" cy="638.90" r="3.55" fill="#fff" stroke="#000" stroke-width="0.9"/>
<circle cx="490.10" cy="611.10" r="3.55" fill="#fff" stroke="#000" stroke-width="0.9"/>
<circle cx="536.90" cy="571.90" r="3.55" fill="#fff" stroke="#000" stroke-width="0.9"/>
<circle cx="583.80" cy="562.20" r="3.55" fill="#fff" stroke="#000" stroke-width="0.9"/>
<line x1="349.30" y1="654.00" x2="349.30" y2="658.00" stroke="#333" stroke-width="0.85" stroke-linecap="butt"/>
<line x1="346.20" y1="654.00" x2="352.40" y2="654.00" stroke="#333" stroke-width="0.85" stroke-linecap="butt"/>
<line x1="346.20" y1="658.00" x2="352.40" y2="658.00" stroke="#333" stroke-width="0.85" stroke-linecap="butt"/>
<line x1="396.20" y1="633.70" x2="396.20" y2="646.00" stroke="#333" stroke-width="0.85" stroke-linecap="butt"/>
<line x1="393.10" y1="633.70" x2="399.30" y2="633.70" stroke="#333" stroke-width="0.85" stroke-linecap="butt"/>
<line x1="393.10" y1="646.00" x2="399.30" y2="646.00" stroke="#333" stroke-width="0.85" stroke-linecap="butt"/>
<line x1="443.20" y1="639.00" x2="443.20" y2="649.50" stroke="#333" stroke-width="0.85" stroke-linecap="butt"/>
<line x1="440.10" y1="639.00" x2="446.30" y2="639.00" stroke="#333" stroke-width="0.85" stroke-linecap="butt"/>
<line x1="440.10" y1="649.50" x2="446.30" y2="649.50" stroke="#333" stroke-width="0.85" stroke-linecap="butt"/>
<line x1="490.10" y1="594.10" x2="490.10" y2="620.30" stroke="#333" stroke-width="0.85" stroke-linecap="butt"/>
<line x1="487.00" y1="594.10" x2="493.20" y2="594.10" stroke="#333" stroke-width="0.85" stroke-linecap="butt"/>
<line x1="487.00" y1="620.30" x2="493.20" y2="620.30" stroke="#333" stroke-width="0.85" stroke-linecap="butt"/>
<line x1="536.90" y1="568.00" x2="536.90" y2="584.30" stroke="#333" stroke-width="0.85" stroke-linecap="butt"/>
<line x1="533.80" y1="568.00" x2="540.00" y2="568.00" stroke="#333" stroke-width="0.85" stroke-linecap="butt"/>
<line x1="533.80" y1="584.30" x2="540.00" y2="584.30" stroke="#333" stroke-width="0.85" stroke-linecap="butt"/>
<line x1="583.80" y1="582.10" x2="583.80" y2="596.70" stroke="#333" stroke-width="0.85" stroke-linecap="butt"/>
<line x1="580.70" y1="582.10" x2="586.90" y2="582.10" stroke="#333" stroke-width="0.85" stroke-linecap="butt"/>
<line x1="580.70" y1="596.70" x2="586.90" y2="596.70" stroke="#333" stroke-width="0.85" stroke-linecap="butt"/>
<polyline points="349.30,656.00 396.20,639.50 443.20,644.80 490.10,603.90 536.90,576.40 583.80,590.10" fill="none" stroke="#000" stroke-width="2.6" stroke-linejoin="round"/>
<polygon points="345.30,653.20 353.30,653.20 349.30,660.00" fill="#000"/>
<polygon points="392.20,636.70 400.20,636.70 396.20,643.50" fill="#000"/>
<polygon points="439.20,642.00 447.20,642.00 443.20,648.80" fill="#000"/>
<polygon points="486.10,601.10 494.10,601.10 490.10,607.90" fill="#000"/>
<polygon points="532.90,573.60 540.90,573.60 536.90,580.40" fill="#000"/>
<polygon points="579.80,587.30 587.80,587.30 583.80,594.10" fill="#000"/>
<line x1="93.90" y1="66.17" x2="93.90" y2="76.02" stroke="#555" stroke-width="0.9" stroke-linecap="butt"/>
<line x1="93.90" y1="66.17" x2="93.90" y2="66.17" stroke="#555" stroke-width="0.9" stroke-linecap="butt"/>
<line x1="93.90" y1="76.02" x2="93.90" y2="76.02" stroke="#555" stroke-width="0.9" stroke-linecap="butt"/>
<line x1="130.40" y1="39.92" x2="130.40" y2="62.89" stroke="#555" stroke-width="0.9" stroke-linecap="butt"/>
<line x1="130.40" y1="39.92" x2="130.40" y2="39.92" stroke="#555" stroke-width="0.9" stroke-linecap="butt"/>
<line x1="130.40" y1="62.89" x2="130.40" y2="62.89" stroke="#555" stroke-width="0.9" stroke-linecap="butt"/>
<line x1="167.20" y1="59.61" x2="167.20" y2="71.64" stroke="#555" stroke-width="0.9" stroke-linecap="butt"/>
<line x1="167.20" y1="59.61" x2="167.20" y2="59.61" stroke="#555" stroke-width="0.9" stroke-linecap="butt"/>
<line x1="167.20" y1="71.64" x2="167.20" y2="71.64" stroke="#555" stroke-width="0.9" stroke-linecap="butt"/>
<polyline points="76.20,79.85 93.90,70.55 130.40,51.40 167.20,65.08" fill="none" stroke="#000" stroke-width="2.9" stroke-linejoin="round"/>
<circle cx="93.90" cy="70.55" r="2.1" fill="#000"/>
<circle cx="130.40" cy="51.40" r="2.1" fill="#000"/>
<circle cx="167.20" cy="65.08" r="2.1" fill="#000"/>
<line x1="93.90" y1="37.73" x2="93.90" y2="48.67" stroke="#555" stroke-width="0.9" stroke-linecap="butt"/>
<line x1="93.90" y1="37.73" x2="93.90" y2="37.73" stroke="#555" stroke-width="0.9" stroke-linecap="butt"/>
<line x1="93.90" y1="48.67" x2="93.90" y2="48.67" stroke="#555" stroke-width="0.9" stroke-linecap="butt"/>
<line x1="130.40" y1="37.73" x2="130.40" y2="49.76" stroke="#555" stroke-width="0.9" stroke-linecap="butt"/>
<line x1="130.40" y1="37.73" x2="130.40" y2="37.73" stroke="#555" stroke-width="0.9" stroke-linecap="butt"/>
<line x1="130.40" y1="49.76" x2="130.40" y2="49.76" stroke="#555" stroke-width="0.9" stroke-linecap="butt"/>
<line x1="167.20" y1="57.42" x2="167.20" y2="69.45" stroke="#555" stroke-width="0.9" stroke-linecap="butt"/>
<line x1="167.20" y1="57.42" x2="167.20" y2="57.42" stroke="#555" stroke-width="0.9" stroke-linecap="butt"/>
<line x1="167.20" y1="69.45" x2="167.20" y2="69.45" stroke="#555" stroke-width="0.9" stroke-linecap="butt"/>
<polyline points="76.20,57.97 93.90,42.65 130.40,44.29 167.20,63.44" fill="none" stroke="#000" stroke-width="2.9" stroke-linejoin="round"/>
<circle cx="93.90" cy="42.65" r="2.25" fill="#fff" stroke="#000" stroke-width="0.9"/>
<circle cx="130.40" cy="44.29" r="2.25" fill="#fff" stroke="#000" stroke-width="0.9"/>
<circle cx="167.20" cy="63.44" r="2.25" fill="#fff" stroke="#000" stroke-width="0.9"/>
<line x1="93.90" y1="43.20" x2="93.90" y2="61.80" stroke="#555" stroke-width="0.9" stroke-linecap="butt"/>
<line x1="93.90" y1="43.20" x2="93.90" y2="43.20" stroke="#555" stroke-width="0.9" stroke-linecap="butt"/>
<line x1="93.90" y1="61.80" x2="93.90" y2="61.80" stroke="#555" stroke-width="0.9" stroke-linecap="butt"/>
<line x1="130.40" y1="42.10" x2="130.40" y2="50.86" stroke="#555" stroke-width="0.9" stroke-linecap="butt"/>
<line x1="130.40" y1="42.10" x2="130.40" y2="42.10" stroke="#555" stroke-width="0.9" stroke-linecap="butt"/>
<line x1="130.40" y1="50.86" x2="130.40" y2="50.86" stroke="#555" stroke-width="0.9" stroke-linecap="butt"/>
<line x1="167.20" y1="69.45" x2="167.20" y2="84.77" stroke="#555" stroke-width="0.9" stroke-linecap="butt"/>
<line x1="167.20" y1="69.45" x2="167.20" y2="69.45" stroke="#555" stroke-width="0.9" stroke-linecap="butt"/>
<line x1="167.20" y1="84.77" x2="167.20" y2="84.77" stroke="#555" stroke-width="0.9" stroke-linecap="butt"/>
<polyline points="76.20,63.44 93.90,50.86 130.40,46.48 167.20,77.11" fill="none" stroke="#000" stroke-width="2.9" stroke-linejoin="round"/>
<polygon points="91.20,48.97 96.60,48.97 93.90,53.56" fill="#000"/>
<polygon points="127.70,44.59 133.10,44.59 130.40,49.18" fill="#000"/>
<polygon points="164.50,75.22 169.90,75.22 167.20,79.81" fill="#000"/>
<line x1="375.50" y1="129.08" x2="375.50" y2="132.36" stroke="#555" stroke-width="0.9" stroke-linecap="butt"/>
<line x1="375.50" y1="129.08" x2="375.50" y2="129.08" stroke="#555" stroke-width="0.9" stroke-linecap="butt"/>
<line x1="375.50" y1="132.36" x2="375.50" y2="132.36" stroke="#555" stroke-width="0.9" stroke-linecap="butt"/>
<line x1="412.00" y1="126.34" x2="412.00" y2="132.36" stroke="#555" stroke-width="0.9" stroke-linecap="butt"/>
<line x1="412.00" y1="126.34" x2="412.00" y2="126.34" stroke="#555" stroke-width="0.9" stroke-linecap="butt"/>
<line x1="412.00" y1="132.36" x2="412.00" y2="132.36" stroke="#555" stroke-width="0.9" stroke-linecap="butt"/>
<line x1="448.70" y1="127.44" x2="448.70" y2="133.45" stroke="#555" stroke-width="0.9" stroke-linecap="butt"/>
<line x1="448.70" y1="127.44" x2="448.70" y2="127.44" stroke="#555" stroke-width="0.9" stroke-linecap="butt"/>
<line x1="448.70" y1="133.45" x2="448.70" y2="133.45" stroke="#555" stroke-width="0.9" stroke-linecap="butt"/>
<polyline points="375.50,130.72 412.00,129.62 448.70,130.72" fill="none" stroke="#000" stroke-width="2.9" stroke-linejoin="round"/>
<circle cx="375.50" cy="130.72" r="2.7" fill="#000"/>
<circle cx="412.00" cy="129.62" r="2.7" fill="#000"/>
<circle cx="448.70" cy="130.72" r="2.7" fill="#000"/>
<line x1="375.50" y1="95.71" x2="375.50" y2="106.65" stroke="#555" stroke-width="0.9" stroke-linecap="butt"/>
<line x1="375.50" y1="95.71" x2="375.50" y2="95.71" stroke="#555" stroke-width="0.9" stroke-linecap="butt"/>
<line x1="375.50" y1="106.65" x2="375.50" y2="106.65" stroke="#555" stroke-width="0.9" stroke-linecap="butt"/>
<line x1="412.00" y1="82.58" x2="412.00" y2="93.52" stroke="#555" stroke-width="0.9" stroke-linecap="butt"/>
<line x1="412.00" y1="82.58" x2="412.00" y2="82.58" stroke="#555" stroke-width="0.9" stroke-linecap="butt"/>
<line x1="412.00" y1="93.52" x2="412.00" y2="93.52" stroke="#555" stroke-width="0.9" stroke-linecap="butt"/>
<line x1="448.70" y1="69.45" x2="448.70" y2="78.21" stroke="#555" stroke-width="0.9" stroke-linecap="butt"/>
<line x1="448.70" y1="69.45" x2="448.70" y2="69.45" stroke="#555" stroke-width="0.9" stroke-linecap="butt"/>
<line x1="448.70" y1="78.21" x2="448.70" y2="78.21" stroke="#555" stroke-width="0.9" stroke-linecap="butt"/>
<polyline points="357.00,109.93 375.50,101.18 412.00,88.05 448.70,73.83" fill="none" stroke="#000" stroke-width="2.9" stroke-linejoin="round"/>
<circle cx="375.50" cy="101.18" r="2.25" fill="#fff" stroke="#000" stroke-width="0.9"/>
<circle cx="412.00" cy="88.05" r="2.25" fill="#fff" stroke="#000" stroke-width="0.9"/>
<circle cx="448.70" cy="73.83" r="2.25" fill="#fff" stroke="#000" stroke-width="0.9"/>
<line x1="375.50" y1="95.71" x2="375.50" y2="106.65" stroke="#555" stroke-width="0.9" stroke-linecap="butt"/>
<line x1="375.50" y1="95.71" x2="375.50" y2="95.71" stroke="#555" stroke-width="0.9" stroke-linecap="butt"/>
<line x1="375.50" y1="106.65" x2="375.50" y2="106.65" stroke="#555" stroke-width="0.9" stroke-linecap="butt"/>
<line x1="412.00" y1="79.30" x2="412.00" y2="89.15" stroke="#555" stroke-width="0.9" stroke-linecap="butt"/>
<line x1="412.00" y1="79.30" x2="412.00" y2="79.30" stroke="#555" stroke-width="0.9" stroke-linecap="butt"/>
<line x1="412.00" y1="89.15" x2="412.00" y2="89.15" stroke="#555" stroke-width="0.9" stroke-linecap="butt"/>
<line x1="448.70" y1="102.27" x2="448.70" y2="111.03" stroke="#555" stroke-width="0.9" stroke-linecap="butt"/>
<line x1="448.70" y1="102.27" x2="448.70" y2="102.27" stroke="#555" stroke-width="0.9" stroke-linecap="butt"/>
<line x1="448.70" y1="111.03" x2="448.70" y2="111.03" stroke="#555" stroke-width="0.9" stroke-linecap="butt"/>
<polyline points="357.00,107.74 375.50,101.18 412.00,84.22 448.70,106.65" fill="none" stroke="#000" stroke-width="2.9" stroke-linejoin="round"/>
<polygon points="372.80,99.29 378.20,99.29 375.50,103.88" fill="#000"/>
<polygon points="409.30,82.33 414.70,82.33 412.00,86.92" fill="#000"/>
<polygon points="446.00,104.76 451.40,104.76 448.70,109.35" fill="#000"/>
<rect x="344.0" y="213.4" width="140.3" height="58.099999999999994" fill="#fff" stroke="#666" stroke-width="1"/>
<line x1="350.80" y1="228.10" x2="378.40" y2="228.10" stroke="#000" stroke-width="2.6" stroke-linecap="butt"/>
<circle cx="365.20" cy="228.10" r="3.8" fill="#000"/>
<text transform="translate(384.90,231.60)" font-size="11.5" text-anchor="start" stroke="#000" stroke-width="0.2">10 weeks chilling</text>
<line x1="350.80" y1="242.60" x2="378.40" y2="242.60" stroke="#000" stroke-width="2.6" stroke-linecap="butt"/>
<circle cx="365.20" cy="242.60" r="3.3499999999999996" fill="#fff" stroke="#000" stroke-width="0.9"/>
<text transform="translate(384.90,246.10)" font-size="11.5" text-anchor="start" stroke="#000" stroke-width="0.2">20 weeks chilling</text>
<line x1="350.80" y1="256.80" x2="378.40" y2="256.80" stroke="#000" stroke-width="2.6" stroke-linecap="butt"/>
<polygon points="361.80,254.42 368.60,254.42 365.20,260.20" fill="#000"/>
<text transform="translate(384.90,260.30)" font-size="11.5" text-anchor="start" stroke="#000" stroke-width="0.2">30 weeks chilling</text>
<rect x="344.0" y="494.0" width="140.3" height="58.0" fill="#fff" stroke="#666" stroke-width="1"/>
<line x1="350.80" y1="508.60" x2="378.40" y2="508.60" stroke="#000" stroke-width="2.6" stroke-linecap="butt"/>
<circle cx="365.20" cy="508.60" r="3.8" fill="#000"/>
<text transform="translate(384.90,512.10)" font-size="11.5" text-anchor="start" stroke="#000" stroke-width="0.2">10 weeks chilling</text>
<line x1="350.80" y1="523.10" x2="378.40" y2="523.10" stroke="#000" stroke-width="2.6" stroke-linecap="butt"/>
<circle cx="365.20" cy="523.10" r="3.3499999999999996" fill="#fff" stroke="#000" stroke-width="0.9"/>
<text transform="translate(384.90,526.60)" font-size="11.5" text-anchor="start" stroke="#000" stroke-width="0.2">20 weeks chilling</text>
<line x1="350.80" y1="537.40" x2="378.40" y2="537.40" stroke="#000" stroke-width="2.6" stroke-linecap="butt"/>
<polygon points="361.80,535.02 368.60,535.02 365.20,540.80" fill="#000"/>
<text transform="translate(384.90,540.90)" font-size="11.5" text-anchor="start" stroke="#000" stroke-width="0.2">30 weeks chilling</text>
</svg>
</body>
</html>
